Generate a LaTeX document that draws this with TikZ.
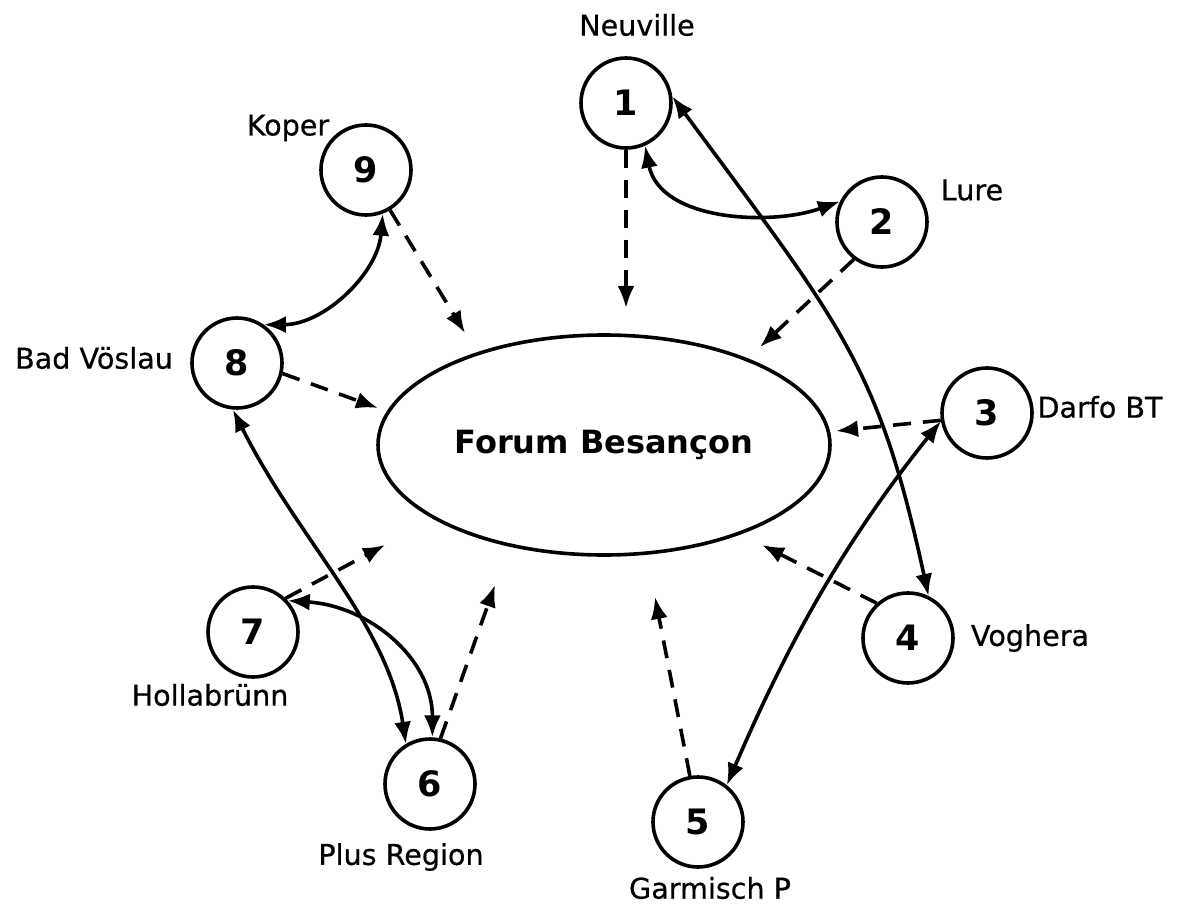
\documentclass[tikz,border=0pt]{standalone}
\usepackage{fontspec}
\setmainfont{DejaVu Sans}
\newfontfamily\lblfont[FakeBold=0.6]{DejaVu Sans}
\usetikzlibrary{arrows.meta,shapes.geometric}
\begin{document}
\begin{tikzpicture}[x=0.5pt,y=-0.5pt,
  city/.style={circle,draw,line width=1.8pt,minimum size=45pt,inner sep=0pt,font=\fontsize{17.5}{17.5}\selectfont\bfseries},
  hub/.style={ellipse,draw,line width=1.8pt,minimum width=226pt,minimum height=110pt,inner sep=0pt,font=\fontsize{16}{16}\selectfont\bfseries},
  lbl/.style={inner sep=0pt,font=\fontsize{14.3}{14.3}\lblfont},
  flow/.style={line width=1.8pt,dash pattern=on 9pt off 6pt,-{Latex[length=11pt,width=8.5pt]}},
  link/.style={line width=1.8pt,{Latex[length=11pt,width=8.5pt]}-{Latex[length=11pt,width=8.5pt]}}]
\useasboundingbox (0,0) rectangle (1180,904);
\node[hub] (c) at (604,445) {Forum Besançon};
\node[city] (n1) at (626,103) {1};
\node[city] (n2) at (882,222) {2};
\node[city] (n3) at (987,413) {3};
\node[city] (n4) at (908,638) {4};
\node[city] (n5) at (698,822) {5};
\node[city] (n6) at (430,784) {6};
\node[city] (n7) at (253,632) {7};
\node[city] (n8) at (237,363) {8};
\node[city] (n9) at (366,170) {9};
\node[lbl] (l1) at (637,25) {Neuville};
\node[lbl] (l2) at (972,190) {Lure};
\node[lbl] (l3) at (1100,407) {Darfo BT};
\node[lbl] (l4) at (1030,638) {Voghera};
\node[lbl] (l5) at (710,888) {Garmisch P};
\node[lbl] (l6) at (401,857) {Plus Region};
\node[lbl] (l7) at (210,695) {Hollabrünn};
\node[lbl] (l8) at (94,358) {Bad Vöslau};
\node[lbl] (l9) at (288,128) {Koper};
\coordinate (t1) at (626,308);
\coordinate (t2) at (760,347);
\coordinate (t3) at (836,431);
\coordinate (t4) at (762,545);
\coordinate (t5) at (655,597);
\coordinate (t6) at (495,585);
\coordinate (t7) at (385,545);
\coordinate (t8) at (378,408);
\coordinate (t9) at (465,333);
\draw[flow] (n1.south) -- (t1);
\draw[flow] (n2.-127) -- (t2);
\draw[flow] (n3.-171) -- (t3);
\draw[flow] (n4.132) -- (t4);
\draw[flow] (n5.100) -- (t5);
\draw[flow] (n6.77) -- (t6);
\draw[flow] (n7.46) -- (t7);
\draw[flow] (n8.-13) -- (t8);
\draw[flow] (n9.-59) -- (t9);
\draw[link] (n1.-66) .. controls +(15,75) and +(-70,25) .. (n2.154);
\draw[link] (n1.8) .. controls +(170,230) and +(-50,-230) .. (n4.64);
\draw[link] (n3.190) .. controls +(-104,130) and +(56,-130) .. (n5.52);
\draw[link] (n9.-69) .. controls +(-5,60) and +(60,0) .. (n8.55);
\draw[link] (n8.-95) .. controls +(65,130) and +(-18,-120) .. (n6.121);
\draw[link] (n7.42) .. controls +(80,5) and +(0,-80) .. (n6.87);
\end{tikzpicture}
\end{document}
